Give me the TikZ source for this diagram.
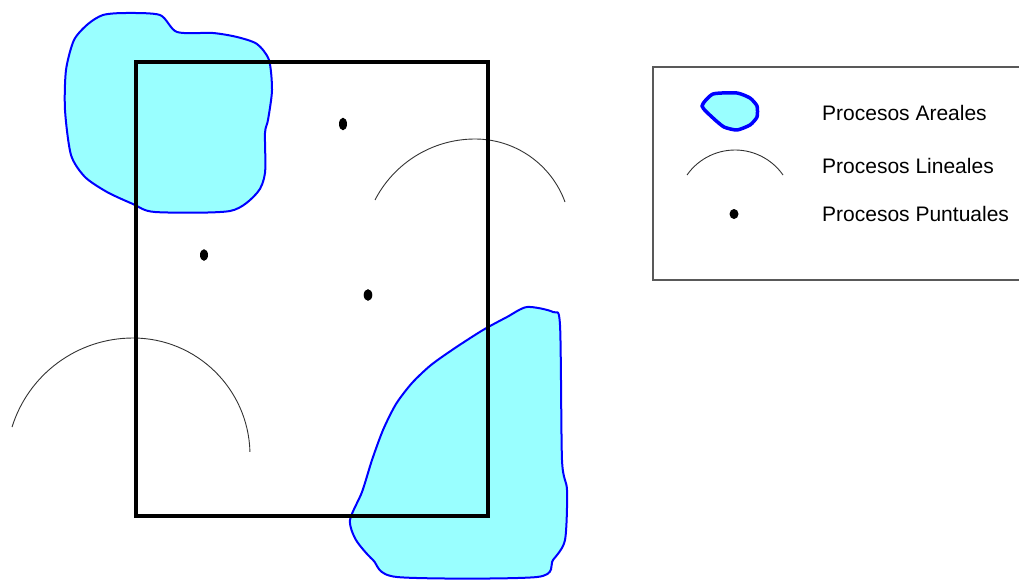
\documentclass[tikz,border=0pt]{standalone}
\usepackage{fontspec}
\setmainfont{Liberation Sans}
\begin{document}
\begin{tikzpicture}[x=1pt,y=-1pt,
  area/.style={draw={rgb,255:red,0;green,0;blue,255},fill={rgb,255:red,153;green,255;blue,255},line width=2pt,line join=round},
  linproc/.style={draw=black!80,line width=0.9pt},
  pdot/.style={fill=black,draw=none},
  frame/.style={draw=black,line width=3.6pt},
  legtext/.style={anchor=west,inner sep=0pt,font=\fontsize{21}{24}\selectfont}]
\useasboundingbox (0,0) rectangle (1019,579);
\clip (0,0) rectangle (1019,579);
% areal processes
\draw[area] plot[smooth cycle,tension=0.45] coordinates {
 (103,15) (125,13) (160,15) (177,32) (213,33) (237,37) (257,44) (269,60)
 (272,90) (268,120) (265,133) (265,173) (257,193) (230,211) (155,212)
 (133,204) (107,192) (85,177) (71,155) (65,110) (66,70) (74,40) (88,24)};
\draw[area] plot[smooth cycle,tension=0.45] coordinates {
 (527,307) (553,312) (560,325) (562,460) (567,490) (565,540) (553,560)
 (537,577) (397,577) (373,560) (356,540) (350,520) (362,492) (372,460)
 (383,430) (396,404) (412,383) (431,365) (455,348) (483,330) (507,317)};
% linear processes
\draw[linproc] (133,464.7) ++(197.3:126.7) arc[start angle=197.3,end angle=270,radius=126.7]
  arc[start angle=270,end angle=358.5,radius=117];
\draw[linproc] (475,251.5) ++(207.3:112.5) arc[start angle=207.3,end angle=270,radius=112.5]
  arc[start angle=270,end angle=340,radius=95.8];
% study region
\draw[frame] (136,62) rectangle (488,516);
% point processes
\fill[pdot] (343,124) ellipse [x radius=4pt,y radius=6.3pt];
\fill[pdot] (204,255) ellipse [x radius=4pt,y radius=5.8pt];
\fill[pdot] (368,295) ellipse [x radius=4.3pt,y radius=5.8pt];
% legend
\draw[draw=black!65,line width=1.5pt] (653,67) rectangle (1030,280);
\draw[area,line width=3.5pt] plot[smooth cycle,tension=0.35] coordinates {
 (702,106) (713,94) (737,93) (750,98) (757,106) (757,117) (750,125)
 (737,130) (724,127) (713,118)};
\draw[linproc] (735,208.6) ++(215:58.6) arc[start angle=215,end angle=325,radius=58.6];
\fill[pdot] (734,214) ellipse [x radius=4.5pt,y radius=5pt];
\node[legtext] (la) at (822,113) {Procesos Areales};
\node[legtext] (ll) at (822,166) {Procesos Lineales};
\node[legtext] (lp) at (822,214) {Procesos Puntuales};
\end{tikzpicture}
\end{document}
